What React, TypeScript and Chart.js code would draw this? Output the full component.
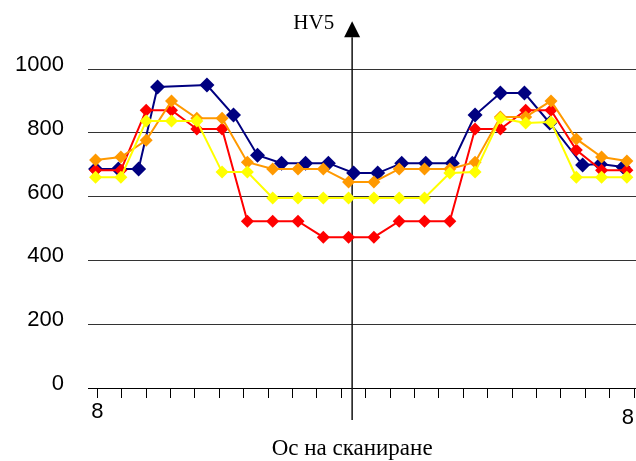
import React, { useEffect, useRef } from 'react';
import { Chart, registerables } from 'chart.js';

Chart.register(...registerables);

// Positions along the scan axis (same positions for red, orange, yellow)
const SCAN_POS = [0, 1, 2, 3, 4, 5, 6, 7, 8, 9, 10, 11, 12, 13, 14, 15, 16, 17, 18, 19, 20, 21];
// Blue series was measured at slightly different positions
const BLUE_POS = [0, 0.9, 1.7, 2.45, 4.4, 5.45, 6.4, 7.35, 8.3, 9.2, 10.2, 11.15, 12.1, 13.05, 14.1, 15, 16, 16.95, 17.95, 19.25, 19.95, 20.85];

const BLUE = [687, 687, 687, 944, 950, 856, 730, 705, 705, 705, 674, 674, 705, 705, 705, 856, 925, 925, 831, 699, 702, 693];
const RED = [683, 683, 871, 871, 812, 812, 523, 523, 523, 473, 473, 473, 523, 523, 523, 812, 812, 871, 871, 746, 683, 683];
const ORANGE = [715, 724, 777, 900, 846, 846, 708, 687, 687, 687, 646, 646, 687, 687, 687, 708, 850, 850, 900, 781, 724, 712];
const YELLOW = [661, 661, 837, 837, 837, 677, 677, 596, 596, 596, 596, 596, 596, 596, 674, 677, 846, 831, 834, 661, 661, 661];

const Y_TICKS = [0, 200, 400, 600, 800, 1000];
const X_END_LABELS = ['8', '8'];
const Y_TITLE = 'HV5';
const X_TITLE = 'Ос на сканиране';

// axis geometry (in scan-position units)
const X_MIN = -0.3;
const X_MAX = 21.36;
const Y_AXIS_AT = 10.14;
const X_TICK_FIRST = 0.07;
const X_TICK_STEP = 0.9644;
const X_TICK_COUNT = 23;

const SANS = '"Liberation Sans", Arial, sans-serif';
const SERIF = '"Liberation Serif", "Times New Roman", serif';

const pts = (xs: number[], ys: number[]) => ys.map((v, i) => ({ x: xs[i], y: v }));

const overlay = {
  id: 'overlay',
  beforeDatasetsDraw(chart: any) {
    const { ctx, scales, chartArea } = chart;
    const ax = scales.x.getPixelForValue(Y_AXIS_AT);
    ctx.save();
    ctx.strokeStyle = '#111';
    ctx.lineWidth = 1.5;
    ctx.beginPath();
    ctx.moveTo(ax, chartArea.top);
    ctx.lineTo(ax, chartArea.bottom + 32);
    ctx.stroke();
    ctx.restore();
  },
  afterDraw(chart: any) {
    const { ctx, scales, chartArea } = chart;
    const ax = scales.x.getPixelForValue(Y_AXIS_AT);
    ctx.save();
    // arrow head
    ctx.fillStyle = '#000';
    ctx.beginPath();
    ctx.moveTo(ax, chartArea.top - 16);
    ctx.lineTo(ax - 8, chartArea.top);
    ctx.lineTo(ax + 8, chartArea.top);
    ctx.closePath();
    ctx.fill();
    // titles
    ctx.fillStyle = '#000';
    ctx.font = `21px ${SERIF}`;
    ctx.textAlign = 'right';
    ctx.textBaseline = 'alphabetic';
    ctx.fillText(Y_TITLE, ax - 18, 29);
    ctx.font = `23px ${SERIF}`;
    ctx.textAlign = 'center';
    ctx.fillText(X_TITLE, ax, 455);
    // end labels of x axis
    ctx.font = `22px ${SANS}`;
    ctx.textBaseline = 'middle';
    const first = scales.x.getPixelForValue(X_TICK_FIRST);
    ctx.textAlign = 'center';
    ctx.fillText(X_END_LABELS[0], first, 412);
    ctx.textAlign = 'right';
    ctx.fillText(X_END_LABELS[1], chart.width - 2, 418);
    ctx.restore();
  },
};

export default function App() {
  const ref = useRef<HTMLCanvasElement | null>(null);
  useEffect(() => {
    document.body.style.margin = '0';
    const canvas = ref.current!;
    const mk = (label: string, xs: number[], ys: number[], color: string, r: number, order: number) => ({
      label,
      data: pts(xs, ys),
      borderColor: color,
      backgroundColor: color,
      borderWidth: 2,
      pointStyle: 'rectRot',
      pointRadius: r,
      pointBorderWidth: 0,
      pointBackgroundColor: color,
      showLine: true,
      tension: 0,
      order,
    });
    const chart = new Chart(canvas, {
      type: 'scatter',
      data: {
        datasets: [
          mk('1', BLUE_POS, BLUE, '#000080', 7.5, 4),
          mk('2', SCAN_POS, RED, '#ff0000', 6.5, 3),
          mk('3', SCAN_POS, ORANGE, '#ff9900', 6.5, 2),
          mk('4', SCAN_POS, YELLOW, '#ffff00', 6.5, 1),
        ] as any,
      },
      options: {
        responsive: false,
        animation: false,
        devicePixelRatio: 1,
        layout: { autoPadding: false, padding: { top: 37, left: 0, right: 0, bottom: 0 } },
        plugins: { legend: { display: false }, tooltip: { enabled: false } },
        scales: {
          x: {
            type: 'linear',
            min: X_MIN,
            max: X_MAX,
            afterBuildTicks: (s: any) => {
              s.ticks = Array.from({ length: X_TICK_COUNT }, (_, k) => ({ value: X_TICK_FIRST + k * X_TICK_STEP }));
            },
            afterFit: (s: any) => { s.height = 73; },
            ticks: { display: false },
            grid: { drawOnChartArea: false, drawTicks: true, tickLength: 10, color: '#000', lineWidth: 1 },
            border: { display: true, color: '#000', width: 1 },
          },
          y: {
            type: 'linear',
            min: 0,
            max: 1100,
            afterBuildTicks: (s: any) => { s.ticks = Y_TICKS.map((v) => ({ value: v })); },
            afterFit: (s: any) => { s.width = 88; },
            ticks: {
              color: '#000',
              font: { family: SANS, size: 22 },
              padding: 24,
              labelOffset: -4,
              callback: (v: any) => String(v),
            },
            grid: { drawTicks: false, color: '#333', lineWidth: 1 },
            border: { display: false },
          },
        },
      } as any,
      plugins: [overlay],
    });
    return () => chart.destroy();
  }, []);
  return <canvas ref={ref} width={636} height={461} style={{ display: 'block' }} />;
}
